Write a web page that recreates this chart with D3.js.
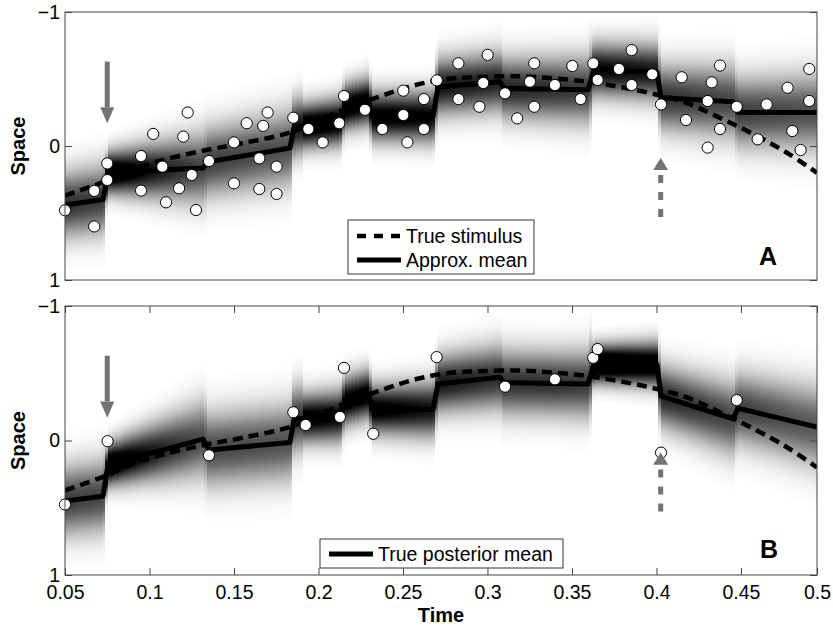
<!DOCTYPE html>
<html>
<head>
<meta charset="utf-8">
<script src="https://cdn.jsdelivr.net/npm/d3@7"></script>
<style>
  body { margin: 0; background: #fff; }
  text { font-family: "Liberation Sans", Arial, Helvetica, sans-serif; }
</style>
</head>
<body>
<div id="chart"></div>
<script>
// ---- data ----
var xTicks = [0.05, 0.1, 0.15, 0.2, 0.25, 0.3, 0.35, 0.4, 0.45, 0.495];
var xTickLabels = ["0.05", "0.1", "0.15", "0.2", "0.25", "0.3", "0.35", "0.4", "0.45", "0.5"];
var yTicks = [-1, 0, 1];

// observation times where the posterior shading restarts
var bandTimes = [0.05, 0.0737, 0.134, 0.1843, 0.1908, 0.2139, 0.2317, 0.2689, 0.3086, 0.3388, 0.3618, 0.4009, 0.4464, 0.495];

// true stimulus (dashed)
var stimTime  = [0.05, 0.0725, 0.0867, 0.1062, 0.1317, 0.155, 0.1831, 0.1967, 0.2145, 0.2364, 0.2559, 0.276, 0.2956, 0.3192, 0.3388, 0.3589, 0.3784, 0.3979, 0.418, 0.4376, 0.4571, 0.4772, 0.495];
var stimSpace = [0.37, 0.27, 0.19, 0.11, 0.035, -0.02, -0.10, -0.17, -0.27, -0.37, -0.45, -0.50, -0.515, -0.52, -0.505, -0.48, -0.44, -0.39, -0.32, -0.21, -0.09, 0.05, 0.2];

// panel A: approximate mean
var meanTimeA  = [0.05, 0.0725, 0.0754, 0.1317, 0.1346, 0.1831, 0.1855, 0.2127, 0.2157, 0.2293, 0.2322, 0.2678, 0.2707, 0.3074, 0.3098, 0.3595, 0.363, 0.4003, 0.4027, 0.4453, 0.4482, 0.495];
var meanSpaceA = [0.44, 0.40, 0.20, 0.165, 0.12, 0.015, -0.14, -0.18, -0.29, -0.33, -0.22, -0.22, -0.44, -0.48, -0.43, -0.42, -0.57, -0.55, -0.36, -0.33, -0.25, -0.25];
var sdStartA = [0.16, 0.10, 0.17, 0.14, 0.11, 0.11, 0.12, 0.14, 0.15, 0.16, 0.13, 0.16, 0.17];
var sdEndA   = [0.17, 0.18, 0.19, 0.14, 0.12, 0.12, 0.13, 0.15, 0.16, 0.17, 0.14, 0.18, 0.19];

// panel B: true posterior mean
var meanTimeB  = [0.05, 0.0725, 0.0754, 0.1317, 0.1352, 0.1831, 0.1855, 0.2127, 0.2157, 0.2293, 0.2322, 0.2678, 0.2707, 0.3074, 0.3098, 0.3595, 0.363, 0.4003, 0.4027, 0.4453, 0.4482, 0.495];
var meanSpaceB = [0.45, 0.414, 0.18, -0.01, 0.07, 0.015, -0.16, -0.18, -0.29, -0.34, -0.23, -0.23, -0.42, -0.47, -0.43, -0.42, -0.57, -0.565, -0.33, -0.16, -0.24, -0.10];
var sdStartB = [0.17, 0.10, 0.18, 0.16, 0.12, 0.12, 0.12, 0.14, 0.16, 0.16, 0.09, 0.15, 0.17];
var sdEndB   = [0.18, 0.19, 0.19, 0.16, 0.13, 0.12, 0.14, 0.16, 0.16, 0.17, 0.11, 0.18, 0.20];

// observations (circles)
var obsTimeA = [0.05, 0.0673, 0.0673, 0.075, 0.075, 0.095, 0.095, 0.1022, 0.1076, 0.1098, 0.1175, 0.12, 0.1226, 0.125, 0.1275, 0.1352,
  0.15, 0.15, 0.1575, 0.165, 0.165, 0.1673, 0.1699, 0.1752, 0.1752, 0.1851, 0.194, 0.2025, 0.2123, 0.2151, 0.2275, 0.2378,
  0.2502, 0.2502, 0.2526, 0.2624, 0.2624, 0.27, 0.2828, 0.2828, 0.2952, 0.2975, 0.3001, 0.3104, 0.3176, 0.3251, 0.3277, 0.3277,
  0.3399, 0.3502, 0.3551, 0.3626, 0.3652, 0.3778, 0.3853, 0.3853, 0.3975, 0.4027, 0.4149, 0.4175, 0.4303, 0.4303, 0.4327,
  0.4376, 0.4376, 0.4475, 0.4599, 0.4652, 0.4776, 0.4804, 0.4853, 0.4904, 0.4904];
var obsSpaceA = [0.48, 0.335, 0.60, 0.13, 0.254, 0.075, 0.333, -0.09, 0.154, 0.42, 0.316, -0.07, -0.25, 0.216, 0.478, 0.112,
  -0.027, 0.279, -0.17, 0.092, 0.321, -0.15, -0.25, 0.154, 0.358, -0.211, -0.127, -0.027, -0.17, -0.373, -0.27, -0.127,
  -0.231, -0.413, -0.027, -0.35, -0.127, -0.49, -0.617, -0.35, -0.293, -0.47, -0.68, -0.393, -0.206, -0.48, -0.617, -0.293,
  -0.455, -0.597, -0.35, -0.617, -0.493, -0.575, -0.716, -0.455, -0.535, -0.31, -0.513, -0.194, 0.012, -0.336, -0.475,
  -0.6, -0.127, -0.293, -0.05, -0.31, -0.435, -0.112, 0.03, -0.575, -0.336];

var obsTimeB  = [0.05, 0.0752, 0.1352, 0.1851, 0.1924, 0.2127, 0.2151, 0.2324, 0.2699, 0.3104, 0.3399, 0.3626, 0.3652, 0.4027, 0.4475];
var obsSpaceB = [0.476, 0.005, 0.11, -0.21, -0.115, -0.175, -0.54, -0.05, -0.62, -0.40, -0.455, -0.615, -0.68, 0.09, -0.30];

// ---- layout ----
var svgWidth = 833, svgHeight = 629;
var plotLeft = 65, plotRight = 817;
var font = '"Liberation Sans", Arial, Helvetica, sans-serif';
var axisColor = "#444";
var arrowColor = "#737373";
var colStep = 0.002;   // width of one shading column in time units
var shadeGain = 0.13;  // peak darkness ~ gain / sd

var x = d3.scaleLinear().domain([0.05, 0.495]).range([plotLeft, plotRight]);

var svg = d3.select("#chart").append("svg")
  .attr("width", svgWidth)
  .attr("height", svgHeight);
var defs = svg.append("defs");
var gradCount = 0;

var panels = [
  { name: "A", top: 12, bottom: 280, meanTime: meanTimeA, meanSpace: meanSpaceA,
    sdStart: sdStartA, sdEnd: sdEndA, obsTime: obsTimeA, obsSpace: obsSpaceA, showTime: false,
    legend: { x: 348, y: 220, w: 186, h: 54, rows: [236, 260],
              items: [{ label: "True stimulus", dash: true }, { label: "Approx. mean", dash: false }] },
    labelPos: [768, 265] },
  { name: "B", top: 306, bottom: 575, meanTime: meanTimeB, meanSpace: meanSpaceB,
    sdStart: sdStartB, sdEnd: sdEndB, obsTime: obsTimeB, obsSpace: obsSpaceB, showTime: true,
    legend: { x: 320, y: 539, w: 243, h: 29, rows: [554],
              items: [{ label: "True posterior mean", dash: false }] },
    labelPos: [769, 558] }
];

panels.forEach(drawPanel);

function drawPanel(p) {
  var y = d3.scaleLinear().domain([-1, 1]).range([p.top, p.bottom]);
  var g = svg.append("g");

  var clipId = "clip" + p.name;
  defs.append("clipPath").attr("id", clipId).append("rect")
    .attr("x", plotLeft).attr("y", p.top)
    .attr("width", plotRight - plotLeft).attr("height", p.bottom - p.top);

  // posterior density as narrow columns with a gaussian vertical gradient
  var meanAt = d3.scaleLinear().domain(p.meanTime).range(p.meanSpace);
  var cols = [];
  for (var i = 0; i < bandTimes.length - 1; i++) {
    var t0 = bandTimes[i], t1 = bandTimes[i + 1];
    var n = Math.max(1, Math.round((t1 - t0) / colStep));
    for (var j = 0; j < n; j++) {
      var ta = t0 + (t1 - t0) * j / n, tb = t0 + (t1 - t0) * (j + 1) / n;
      var f = (j + 0.5) / n;
      cols.push({ ta: ta, tb: tb, m: meanAt((ta + tb) / 2),
                  sd: p.sdStart[i] + (p.sdEnd[i] - p.sdStart[i]) * f });
    }
  }

  var shade = g.append("g")
    .attr("clip-path", "url(#" + clipId + ")")
    .attr("shape-rendering", "crispEdges");
  cols.forEach(function(c) {
    var id = "grad" + (gradCount++);
    var peak = shadeGain / c.sd;
    defs.append("linearGradient").attr("id", id)
      .attr("x1", 0).attr("y1", 0).attr("x2", 0).attr("y2", 1)
      .selectAll("stop").data(d3.range(31)).join("stop")
      .attr("offset", function(k) { return k / 30; })
      .attr("stop-color", "#000")
      .attr("stop-opacity", function(k) {
        var z = -3 + 6 * k / 30;
        return Math.min(1, peak * Math.exp(-z * z / 2));
      });
    var xa = Math.round(x(c.ta)), xb = Math.round(x(c.tb));
    if (xb <= xa) return;
    shade.append("rect")
      .attr("x", xa)
      .attr("width", xb - xa)
      .attr("y", y(c.m - 3 * c.sd))
      .attr("height", y(c.m + 3 * c.sd) - y(c.m - 3 * c.sd))
      .attr("fill", "url(#" + id + ")");
  });

  var lines = g.append("g").attr("clip-path", "url(#" + clipId + ")");

  // true stimulus
  var stimLine = d3.line()
    .x(function(d) { return x(d[0]); })
    .y(function(d) { return y(d[1]); })
    .curve(d3.curveCatmullRom);
  lines.append("path")
    .datum(d3.zip(stimTime, stimSpace))
    .attr("d", stimLine)
    .attr("fill", "none")
    .attr("stroke", "#000")
    .attr("stroke-width", 4.5)
    .attr("stroke-dasharray", "10,6");

  // mean
  var meanLine = d3.line()
    .x(function(d) { return x(d[0]); })
    .y(function(d) { return y(d[1]); });
  lines.append("path")
    .datum(d3.zip(p.meanTime, p.meanSpace))
    .attr("d", meanLine)
    .attr("fill", "none")
    .attr("stroke", "#000")
    .attr("stroke-width", 5)
    .attr("stroke-linejoin", "round");

  // observations
  g.append("g").selectAll("circle")
    .data(d3.zip(p.obsTime, p.obsSpace))
    .join("circle")
    .attr("cx", function(d) { return x(d[0]); })
    .attr("cy", function(d) { return y(d[1]); })
    .attr("r", 5.6)
    .attr("fill", "#fff")
    .attr("stroke", "#000")
    .attr("stroke-width", 1);

  // solid arrow (cue) and dashed arrow (missed observation)
  var ax = x(0.075);
  g.append("line")
    .attr("x1", ax).attr("x2", ax)
    .attr("y1", y(-0.63)).attr("y2", y(-0.29))
    .attr("stroke", arrowColor).attr("stroke-width", 5);
  g.append("path")
    .attr("d", "M" + (ax - 7) + "," + y(-0.29) + "L" + (ax + 7) + "," + y(-0.29) + "L" + ax + "," + y(-0.17) + "Z")
    .attr("fill", arrowColor);

  var bx = x(0.4025);
  g.append("line")
    .attr("x1", bx).attr("x2", bx)
    .attr("y1", y(0.216)).attr("y2", y(0.54))
    .attr("stroke", arrowColor).attr("stroke-width", 5)
    .attr("stroke-dasharray", "8,9");
  g.append("path")
    .attr("d", "M" + (bx - 7.5) + "," + y(0.18) + "L" + (bx + 7.5) + "," + y(0.18) + "L" + bx + "," + y(0.09) + "Z")
    .attr("fill", arrowColor);

  // legend
  var L = p.legend;
  var lg = g.append("g");
  lg.append("rect")
    .attr("x", L.x).attr("y", L.y).attr("width", L.w).attr("height", L.h)
    .attr("fill", "#fff").attr("stroke", "#333").attr("stroke-width", 1);
  L.items.forEach(function(it, k) {
    var ry = L.rows[k];
    lg.append("line")
      .attr("x1", L.x + 9).attr("x2", L.x + 53)
      .attr("y1", ry).attr("y2", ry)
      .attr("stroke", "#000")
      .attr("stroke-width", it.dash ? 4.5 : 5)
      .attr("stroke-dasharray", it.dash ? "9,8" : null);
    lg.append("text")
      .attr("x", L.x + 58).attr("y", ry + 7)
      .attr("font-size", 19.5)
      .text(it.label);
  });

  // panel letter
  g.append("text")
    .attr("x", p.labelPos[0]).attr("y", p.labelPos[1])
    .attr("text-anchor", "middle")
    .attr("font-size", 25).attr("font-weight", "bold")
    .text(p.name);

  // axes
  var left = g.append("g")
    .attr("transform", "translate(" + plotLeft + ",0)")
    .call(d3.axisLeft(y).tickValues(yTicks).tickSize(-7).tickPadding(5).tickFormat(d3.format("~g")));
  var right = g.append("g")
    .attr("transform", "translate(" + plotRight + ",0)")
    .call(d3.axisRight(y).tickValues(yTicks).tickSize(-7).tickFormat(""));
  var axes = [left, right];
  if (p.showTime) {
    var bottom = g.append("g")
      .attr("transform", "translate(0," + p.bottom + ")")
      .call(d3.axisBottom(x).tickValues(xTicks).tickSize(-7).tickPadding(10)
        .tickFormat(function(d, i) { return xTickLabels[i]; }));
    var top = g.append("g")
      .attr("transform", "translate(0," + p.top + ")")
      .call(d3.axisTop(x).tickValues(xTicks).tickSize(-7).tickFormat(""));
    axes.push(bottom, top);
  }
  axes.forEach(function(a) {
    a.select(".domain").remove();
    a.attr("font-family", font).attr("font-size", 19.5).attr("color", axisColor);
    a.selectAll("text").attr("fill", "#000");
  });

  g.append("rect")
    .attr("x", plotLeft).attr("y", p.top)
    .attr("width", plotRight - plotLeft).attr("height", p.bottom - p.top)
    .attr("fill", "none").attr("stroke", axisColor).attr("stroke-width", 1);

  // y label
  g.append("text")
    .attr("transform", "translate(24.5," + (p.top + p.bottom) / 2 + ") rotate(-90)")
    .attr("text-anchor", "middle")
    .attr("font-size", 20).attr("font-weight", "bold")
    .text("Space");

  if (p.showTime) {
    g.append("text")
      .attr("x", (plotLeft + plotRight) / 2).attr("y", 622)
      .attr("text-anchor", "middle")
      .attr("font-size", 20).attr("font-weight", "bold")
      .text("Time");
  }
}
</script>
</body>
</html>
